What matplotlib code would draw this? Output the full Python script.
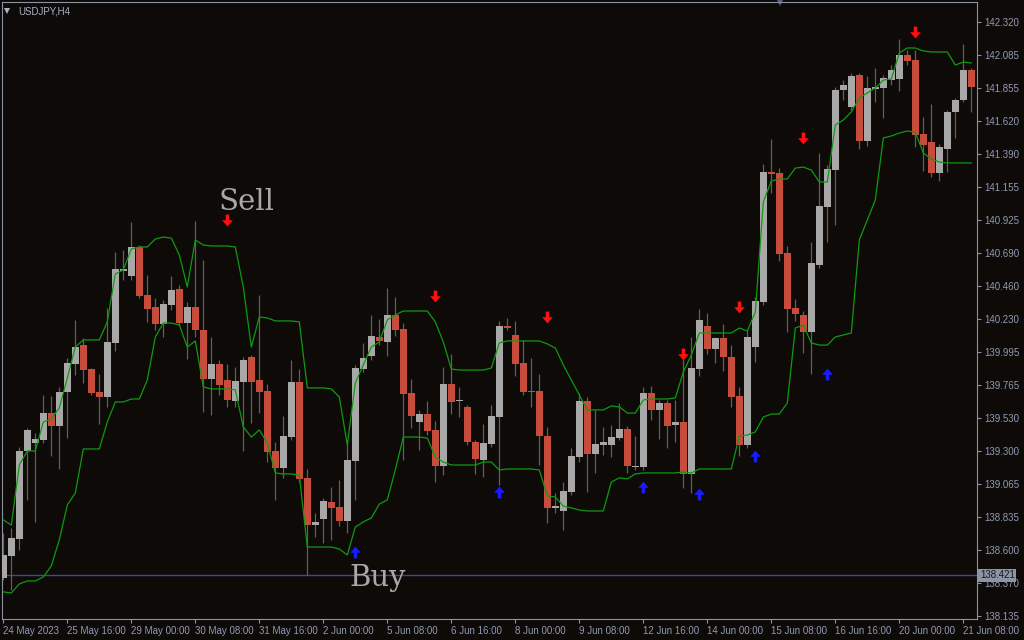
import matplotlib
matplotlib.use("Agg")
import matplotlib.pyplot as plt
from matplotlib.path import Path
import numpy as np

# USDJPY H4 candles (prices)
opens = [138.403, 138.558, 138.678, 139.298, 139.354, 139.375, 139.565, 139.474, 139.713, 139.911,
         140.044, 139.875, 139.713, 139.678, 140.059, 140.566, 140.531, 140.735, 140.397, 140.312,
         140.192, 140.326, 140.439, 140.199, 140.312, 140.150, 139.805, 139.911, 139.798, 139.650,
         139.784, 139.960, 139.798, 139.720, 139.298, 139.178, 139.396, 139.784, 139.108, 138.776,
         138.819, 138.938, 138.903, 138.805, 139.227, 139.875, 139.967, 140.101, 140.066, 140.256,
         140.157, 139.706, 139.502, 139.558, 139.446, 139.192, 139.770, 139.648, 139.608, 139.361,
         139.234, 139.347, 139.537, 140.178, 140.115, 139.918, 139.720, 139.720, 139.403, 138.896,
         138.875, 139.009, 139.255, 139.650, 139.277, 139.340, 139.340, 139.389, 139.453, 139.185,
         139.185, 139.706, 139.587, 139.636, 139.481, 139.502, 139.136, 139.875, 140.178, 140.016,
         140.094, 139.960, 139.685, 139.340, 140.030, 140.348, 141.263, 141.256, 140.693, 140.305,
         140.256, 140.136, 140.608, 141.017, 141.277, 141.841, 141.721, 141.947, 141.482, 141.848,
         141.855, 141.911, 141.918, 142.088, 142.052, 141.531, 141.475, 141.256, 141.425, 141.686,
         141.771, 141.982]
highs = [138.720, 138.755, 139.326, 139.460, 139.425, 139.692, 139.685, 139.749, 139.953, 140.221,
         140.094, 139.882, 139.840, 140.305, 140.700, 140.714, 140.911, 140.749, 140.538, 140.376,
         140.362, 140.531, 140.467, 140.348, 140.918, 140.643, 140.101, 139.939, 139.911, 139.889,
         139.960, 139.974, 140.397, 139.770, 139.361, 139.544, 139.939, 139.875, 139.171, 138.861,
         138.967, 139.044, 139.093, 139.375, 139.904, 140.059, 140.256, 140.228, 140.446, 140.383,
         140.199, 139.805, 139.587, 139.650, 139.509, 139.889, 139.981, 139.749, 139.622, 139.375,
         139.488, 139.622, 140.214, 140.235, 140.214, 140.080, 139.953, 139.840, 139.467, 139.002,
         139.079, 139.319, 139.706, 139.678, 139.587, 139.467, 139.481, 139.636, 139.474, 139.403,
         139.749, 139.756, 139.657, 139.657, 139.657, 139.946, 140.101, 140.298, 140.270, 140.101,
         140.192, 140.044, 139.749, 140.150, 140.383, 141.320, 141.496, 141.291, 140.742, 140.369,
         140.284, 140.770, 141.397, 141.313, 141.862, 141.911, 141.961, 141.961, 141.940, 141.996,
         141.947, 142.017, 142.200, 142.123, 142.123, 141.651, 141.742, 141.461, 141.700, 141.785,
         142.165, 141.996]
lows = [138.389, 138.318, 138.600, 138.953, 138.798, 139.354, 139.263, 139.171, 139.389, 139.833,
        139.777, 139.692, 139.488, 139.608, 140.002, 140.503, 140.502, 140.376, 140.207, 140.150,
        140.101, 140.291, 140.185, 139.946, 140.101, 139.572, 139.551, 139.692, 139.608, 139.608,
        139.298, 139.495, 139.565, 139.220, 138.953, 139.108, 139.375, 139.079, 138.424, 138.692,
        138.650, 138.671, 138.769, 138.720, 138.953, 139.854, 139.939, 140.044, 139.967, 140.108,
        139.234, 139.460, 139.305, 139.410, 139.079, 139.129, 139.558, 139.537, 139.340, 139.136,
        139.115, 139.326, 139.058, 140.150, 139.826, 139.692, 139.608, 139.199, 138.791, 138.861,
        138.741, 138.988, 139.220, 139.009, 139.143, 139.270, 139.255, 139.375, 139.143, 139.164,
        139.164, 139.516, 139.382, 139.319, 139.361, 139.037, 139.002, 139.826, 139.981, 139.918,
        139.861, 139.608, 139.263, 139.319, 139.925, 140.326, 141.115, 140.636, 140.136, 140.214,
        139.988, 139.840, 140.587, 140.770, 140.890, 141.771, 141.700, 141.425, 141.446, 141.756,
        141.644, 141.876, 141.834, 142.017, 141.439, 141.270, 141.228, 141.200, 141.263, 141.503,
        141.756, 141.686]
closes = [138.565, 138.685, 139.298, 139.446, 139.382, 139.565, 139.474, 139.713, 139.918, 140.030,
          139.868, 139.706, 139.678, 140.066, 140.580, 140.580, 140.735, 140.390, 140.298, 140.192,
          140.333, 140.432, 140.199, 140.312, 140.150, 139.805, 139.911, 139.763, 139.657, 139.791,
          139.939, 139.784, 139.713, 139.291, 139.178, 139.403, 139.784, 139.101, 138.776, 138.798,
          138.945, 138.896, 138.805, 139.234, 139.882, 139.953, 140.108, 140.073, 140.256, 140.150,
          139.699, 139.544, 139.558, 139.439, 139.192, 139.770, 139.643, 139.655, 139.361, 139.241,
          139.354, 139.544, 140.178, 140.164, 139.911, 139.713, 139.712, 139.403, 138.896, 138.910,
          139.016, 139.263, 139.650, 139.277, 139.347, 139.361, 139.396, 139.453, 139.192, 139.192,
          139.706, 139.587, 139.636, 139.474, 139.502, 139.136, 139.882, 140.221, 140.016, 140.094,
          139.960, 139.678, 139.340, 140.101, 140.355, 141.263, 141.249, 140.686, 140.298, 140.263,
          140.136, 140.622, 141.024, 141.284, 141.841, 141.876, 141.940, 141.482, 141.855, 141.862,
          141.925, 141.982, 142.088, 142.045, 141.524, 141.454, 141.256, 141.439, 141.686, 141.771,
          141.982, 141.862]

# channel lines
upper = [138.812, 138.776, 139.199, 139.298, 139.298, 139.502, 139.523, 139.601, 139.812, 140.030,
         140.080, 140.080, 140.080, 140.207, 140.545, 140.573, 140.721, 140.735, 140.735, 140.791,
         140.805, 140.798, 140.679, 140.453, 140.784, 140.749, 140.742, 140.742, 140.742, 140.735,
         140.453, 140.030, 140.242, 140.235, 140.214, 140.214, 140.214, 140.207, 139.742, 139.742,
         139.742, 139.735, 139.678, 139.340, 139.777, 139.904, 140.030, 140.066, 140.221, 140.256,
         140.284, 140.284, 140.284, 140.284, 140.207, 140.066, 139.875, 139.868, 139.868, 139.868,
         139.868, 139.882, 140.059, 140.073, 140.073, 140.073, 140.073, 140.073, 140.052, 140.023,
         139.904, 139.798, 139.692, 139.587, 139.587, 139.587, 139.615, 139.608, 139.565, 139.565,
         139.657, 139.664, 139.664, 139.664, 139.671, 139.854, 139.974, 140.129, 140.129, 140.129,
         140.129, 140.129, 140.164, 140.143, 140.277, 141.052, 141.200, 141.214, 141.214, 141.291,
         141.298, 141.277, 141.193, 141.193, 141.594, 141.630, 141.686, 141.785, 141.820, 141.855,
         141.911, 141.918, 142.102, 142.137, 142.137, 142.116, 142.109, 142.109, 142.109, 142.017,
         142.038, 142.031]
lower = [138.305, 138.297, 138.361, 138.382, 138.382, 138.410, 138.488, 138.671, 138.917, 139.002,
         139.312, 139.312, 139.312, 139.502, 139.643, 139.643, 139.664, 139.664, 139.798, 140.101,
         140.199, 140.199, 140.185, 140.030, 140.073, 139.749, 139.735, 139.735, 139.735, 139.728,
         139.467, 139.396, 139.446, 139.354, 139.143, 139.136, 139.136, 139.129, 138.621, 138.621,
         138.621, 138.621, 138.607, 138.565, 138.762, 138.798, 138.826, 138.924, 138.953, 139.164,
         139.396, 139.396, 139.396, 139.389, 139.255, 139.220, 139.199, 139.199, 139.199, 139.199,
         139.220, 139.220, 139.164, 139.171, 139.171, 139.171, 139.171, 139.164, 138.981, 138.974,
         138.910, 138.896, 138.882, 138.875, 138.875, 138.875, 139.079, 139.108, 139.101, 139.136,
         139.143, 139.143, 139.143, 139.143, 139.143, 139.150, 139.143, 139.171, 139.171, 139.171,
         139.171, 139.171, 139.403, 139.410, 139.432, 139.537, 139.558, 139.558, 139.636, 140.164,
         140.185, 140.059, 140.044, 140.044, 140.101, 140.115, 140.129, 140.784, 140.926, 141.066,
         141.503, 141.517, 141.538, 141.552, 141.545, 141.397, 141.355, 141.334, 141.327, 141.327,
         141.327, 141.327]

# signal arrows: (bar index, price)
sell_bars = [28, 54, 68, 85, 92, 100, 114]
sell_prices = [140.925, 140.390, 140.242, 139.981, 140.312, 141.503, 142.250]
buy_bars = [44, 62, 80, 87, 94, 103]
buy_prices = [138.586, 139.009, 139.044, 138.995, 139.263, 139.840]

price_ticks = [142.320, 142.085, 141.855, 141.620, 141.390, 141.155, 140.925, 140.690, 140.460,
               140.230, 139.995, 139.765, 139.530, 139.300, 139.065, 138.835, 138.600, 138.370, 138.135]
time_bars = list(range(0, 122, 8))
time_labels = ["24 May 2023", "25 May 16:00", "29 May 00:00", "30 May 08:00", "31 May 16:00",
               "2 Jun 00:00", "5 Jun 08:00", "6 Jun 16:00", "8 Jun 00:00", "9 Jun 08:00",
               "12 Jun 16:00", "14 Jun 00:00", "15 Jun 08:00", "16 Jun 16:00", "20 Jun 00:00",
               "21 Jun 08:00"]
level = 138.421

bg = "#0d0a08"
bull = "#a8a8a8"
bear = "#c84c3c"
axis_col = "#8c93a3"
label_col = "#8f9bb4"

fig = plt.figure(figsize=(10.24, 6.4), dpi=100, facecolor=bg)
ax = fig.add_axes([2 / 1024, 21 / 640, 975 / 1024, 617 / 640])
ax.set_facecolor(bg)

x = np.arange(len(opens))
o = np.array(opens)
c = np.array(closes)
up = c >= o

# wicks
ax.vlines(x, lows, highs, color="#5f5f5f", lw=0.9, zorder=2)
# bodies
bottom = np.minimum(o, c)
height = np.maximum(np.abs(c - o), 0.006)
ax.bar(x, height, bottom=bottom, width=0.88, color=np.where(up, bull, bear),
       linewidth=0, zorder=3)

# channel
ax.plot(x, upper, color="#0f9a0f", lw=0.9, zorder=4)
ax.plot(x, lower, color="#0f9a0f", lw=0.9, zorder=4)

# level line
ax.axhline(level, color="#3e4b88", lw=1.0, zorder=1)

# arrows
down_arrow = Path([(-0.3, 1), (0.3, 1), (0.3, 0.05), (0.9, 0.05), (0, -1), (-0.9, 0.05),
                   (-0.3, 0.05), (-0.3, 1)])
up_arrow = Path([(-0.3, -1), (0.3, -1), (0.3, -0.05), (0.9, -0.05), (0, 1), (-0.9, -0.05),
                 (-0.3, -0.05), (-0.3, -1)])
ax.plot(np.array(sell_bars) - 0.1, sell_prices, ls="none", marker=down_arrow, ms=8.5,
        color="#ff1010", mew=0, zorder=6)
ax.plot(np.array(buy_bars) - 0.1, buy_prices, ls="none", marker=up_arrow, ms=8.5,
        color="#1a1aff", mew=0, zorder=6)

# annotations
ax.text(30.4, 140.996, "Sell", family="DejaVu Serif", fontsize=21, color="#a8a8a8",
        ha="center", va="baseline", zorder=7)
ax.text(46.84, 138.347, "Buy", family="DejaVu Serif", fontsize=21, color="#a8a8a8",
        ha="center", va="baseline", zorder=7)

ax.set_xlim(-0.1625, 121.71)
ax.set_ylim(138.114, 142.461)

# axes frame
for s in ax.spines.values():
    s.set_color(axis_col)
    s.set_linewidth(0.8)

ax.yaxis.tick_right()
ax.set_yticks(price_ticks)
ax.set_yticklabels([f"{p:.3f}" for p in price_ticks])
ax.set_xticks(time_bars)
ax.set_xticklabels(time_labels)
ax.tick_params(axis="y", colors=axis_col, labelcolor=label_col, length=3, width=0.8,
               pad=2, labelsize=7)
ax.tick_params(axis="x", colors=axis_col, labelcolor=label_col, length=3, width=0.8,
               pad=2, labelsize=7)
for t in ax.get_xticklabels():
    t.set_ha("left")
    t.set_family("Liberation Sans")
for t in ax.get_yticklabels():
    t.set_family("Liberation Sans")

# current level box on price scale
ax.text(1.003, level, f"{level:.3f}", transform=ax.get_yaxis_transform(), fontsize=7,
        family="Liberation Sans", color="#15181f", va="center", ha="left",
        bbox=dict(boxstyle="square,pad=0.15", fc="#8d94a6", ec="none"), zorder=10,
        clip_on=False)

# header
ax.text(0.017, 0.985, "USDJPY,H4", transform=ax.transAxes, fontsize=7,
        family="Liberation Sans", color="#aab3c5", va="center", ha="left")
ax.plot([0.0055], [0.985], transform=ax.transAxes, marker="v", ms=4, color="#aab3c5",
        mew=0)
# chart shift marker at the top
ax.plot([0.798], [1.0], transform=ax.transAxes, marker="v", ms=6, color="#5a6278",
        mew=0, clip_on=False)

fig.savefig("out.png", dpi=100, facecolor=bg)
